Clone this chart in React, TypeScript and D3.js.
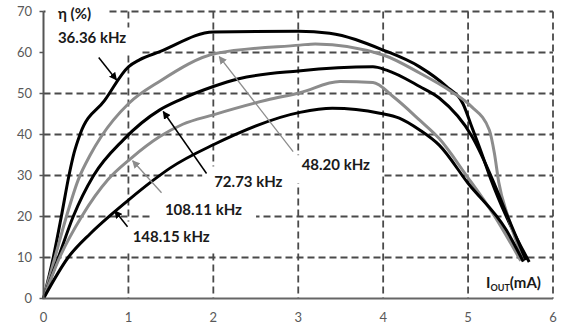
import React, { useEffect, useRef } from 'react'
import * as d3 from 'd3'

// efficiency vs output current, one array per switching frequency
const f3636 = [[0, 0], [0.115, 10], [0.21, 20], [0.3, 30], [0.36, 35.5], [0.43, 40], [0.72, 48.3], [1.0, 56.5], [1.13, 58.2], [1.37, 60.2], [2.0, 65], [3.0, 65.2], [3.37, 64.7], [4.0, 60.6], [4.43, 56.5], [4.74, 51.8], [4.94, 47.5], [5.05, 41.5], [5.15, 36], [5.27, 29], [5.45, 20], [5.72, 8.9]]
const f4820 = [[0, 0], [0.135, 10], [0.27, 20], [0.41, 29], [0.55, 35], [0.68, 39.5], [1.0, 47.5], [1.37, 53], [2.04, 59.8], [3.02, 61.8], [3.2, 62.1], [4.0, 59.4], [4.43, 55], [4.8, 50.5], [5.04, 46.8], [5.25, 41.1], [5.31, 35.4], [5.36, 28.5], [5.47, 20], [5.66, 9.2]]
const f7273 = [[0, 0], [0.175, 10], [0.35, 20], [0.59, 30], [0.94, 38.7], [1.37, 46], [1.6, 48.4], [2.0, 51.7], [2.3, 53.6], [3.0, 55.5], [3.88, 56.5], [4.04, 55.7], [4.43, 51.7], [4.66, 48.9], [5.05, 39.4], [5.29, 28.9], [5.45, 20.8], [5.68, 9.4]]
const f10811 = [[0, 0], [0.19, 10], [0.45, 20], [0.76, 29], [1.02, 34], [1.37, 39.5], [1.64, 42.5], [2.0, 44.8], [2.63, 48.4], [3.02, 50.2], [3.49, 52.9], [3.88, 52.7], [4.12, 49.2], [4.43, 43.5], [4.66, 39], [4.98, 30], [5.29, 20.8], [5.62, 9.2]]
const f14815 = [[0, 0], [0.29, 10], [0.55, 15.8], [0.8, 20.5], [1.0, 24], [1.29, 28.8], [1.49, 31.8], [2.0, 37.5], [3.02, 45.4], [3.4, 46.4], [3.96, 45.2], [4.19, 44], [4.43, 41.1], [4.66, 37.4], [5.0, 28.1], [5.45, 16.7], [5.65, 9]]

const seriesNames = ['36.36 kHz', '48.20 kHz', '72.73 kHz', '108.11 kHz', '148.15 kHz']
const seriesData = [f3636, f4820, f7273, f10811, f14815]
const xTicks = [0, 1, 2, 3, 4, 5, 6]
const yTicks = [0, 10, 20, 30, 40, 50, 60, 70]

const BLACK = '#000'
const GRAY = '#8c8c8c'

const W = 565
const H = 326
const margin = { left: 43.5, right: 12, top: 11.5, bottom: 27.5 }

export default function App() {
  const ref = useRef<SVGSVGElement>(null)

  useEffect(() => {
    const svg = d3.select(ref.current)
    svg.selectAll('*').remove()

    const x = d3.scaleLinear().domain([0, 6]).range([margin.left, W - margin.right])
    const y = d3.scaleLinear().domain([0, 70]).range([H - margin.bottom, margin.top])

    const colors = [BLACK, GRAY, BLACK, GRAY, BLACK]
    const font = 'Lato, "Open Sans", sans-serif'

    // dashed grid
    const grid = svg.append('g').attr('stroke', '#4a4a4a').attr('stroke-width', 1.8).attr('stroke-dasharray', '7,4')
    grid.selectAll('line.h')
      .data(yTicks.slice(1))
      .enter()
      .append('line')
        .attr('x1', x(0)).attr('x2', x(6))
        .attr('y1', d => y(d)).attr('y2', d => y(d))
    grid.selectAll('line.v')
      .data(xTicks.slice(1))
      .enter()
      .append('line')
        .attr('x1', d => x(d)).attr('x2', d => x(d))
        .attr('y1', y(70)).attr('y2', y(0))

    // labels with their arrows (from label to curve)
    const labels = [
      { text: seriesNames[0], lx: 0.17, ly: 62.2, from: [0.65, 58.8], to: [0.86, 53.3], color: BLACK, box: [-14, -16, 14, 11] },
      { text: seriesNames[1], lx: 3.04, ly: 31.3, from: [2.94, 35.8], to: [2.07, 59.0], color: GRAY, box: [-12, -15, 12, 13] },
      { text: seriesNames[2], lx: 2.01, ly: 27.1, from: [1.92, 30.5], to: [1.41, 45.6], color: BLACK, box: [-12, -21, 12, 12] },
      { text: seriesNames[3], lx: 1.43, ly: 20.4, from: [1.39, 25.8], to: [1.05, 33.6], color: GRAY, box: [-13, -16, 14, 10] },
      { text: seriesNames[4], lx: 1.05, ly: 13.9, from: [0.99, 17.5], to: [0.84, 21.4], color: BLACK, box: [-16, -20, 12, 10] }
    ]

    const textG = svg.append('g')
      .attr('font-family', font)
      .attr('font-weight', 700)
      .attr('font-size', 15)
    const texts = textG.selectAll('text')
      .data(labels)
      .enter()
      .append('text')
        .attr('x', d => x(d.lx))
        .attr('y', d => y(d.ly))
        .attr('fill', '#1a1a1a')
        .text(d => d.text)

    // white boxes behind labels, hide the grid like the excel text boxes
    const boxG = svg.insert('g', 'g:last-child')
    texts.each(function (d) {
      const bb = (this as SVGTextElement).getBBox()
      boxG.append('rect')
        .attr('x', bb.x + d.box[0])
        .attr('y', y(d.ly) + d.box[1])
        .attr('width', bb.width - d.box[0] + d.box[2])
        .attr('height', -d.box[1] + d.box[3])
        .attr('fill', '#fff')
    })
    // eta label box
    boxG.append('rect').attr('x', x(0) + 2).attr('y', 2).attr('width', 62).attr('height', 22).attr('fill', '#fff')

    // curves
    const line = d3.line<number[]>()
      .x(d => x(d[0]))
      .y(d => y(d[1]))
      .curve(d3.curveMonotoneX)

    svg.append('g')
      .selectAll('path.curve')
      .data(seriesData)
      .enter()
      .append('path')
        .attr('class', 'curve')
        .attr('d', d => line(d))
        .attr('fill', 'none')
        .attr('stroke', (d, i) => colors[i])
        .attr('stroke-width', 3)
        .attr('stroke-linejoin', 'round')

    // axes
    svg.append('line')
      .attr('x1', x(0)).attr('x2', x(0)).attr('y1', y(70)).attr('y2', y(0))
      .attr('stroke', '#555').attr('stroke-width', 2)
    svg.append('line')
      .attr('x1', x(0) - 1).attr('x2', x(6)).attr('y1', y(0)).attr('y2', y(0))
      .attr('stroke', '#666').attr('stroke-width', 2.2)
    svg.append('g')
      .selectAll('line')
      .data(yTicks)
      .enter()
      .append('line')
        .attr('x1', x(0) - 4).attr('x2', x(0))
        .attr('y1', d => y(d)).attr('y2', d => y(d))
        .attr('stroke', '#555').attr('stroke-width', 1.5)

    const tickG = svg.append('g')
      .attr('font-family', font)
      .attr('font-size', 13)
      .attr('fill', '#595959')
    tickG.selectAll('text.y')
      .data(yTicks)
      .enter()
      .append('text')
        .attr('x', 32)
        .attr('y', d => y(d) + 4.5)
        .attr('text-anchor', 'end')
        .text(d => d)
    tickG.selectAll('text.x')
      .data(xTicks)
      .enter()
      .append('text')
        .attr('x', d => x(d))
        .attr('y', 322)
        .attr('text-anchor', 'middle')
        .text(d => d)

    // arrows
    const defs = svg.append('defs')
    ;[['arrBlack', BLACK], ['arrGray', GRAY]].forEach(([id, c]) => {
      defs.append('marker')
        .attr('id', id)
        .attr('viewBox', '0 0 10 10')
        .attr('refX', 9).attr('refY', 5)
        .attr('markerWidth', 8).attr('markerHeight', 8)
        .attr('markerUnits', 'userSpaceOnUse')
        .attr('orient', 'auto')
        .append('path')
          .attr('d', 'M0,0 L10,5 L0,10 z')
          .attr('fill', c)
    })
    svg.append('g')
      .selectAll('line')
      .data(labels)
      .enter()
      .append('line')
        .attr('x1', d => x(d.from[0])).attr('y1', d => y(d.from[1]))
        .attr('x2', d => x(d.to[0])).attr('y2', d => y(d.to[1]))
        .attr('stroke', d => d.color)
        .attr('stroke-width', d => d.color === GRAY ? 1.3 : 1.5)
        .attr('marker-end', d => d.color === GRAY ? 'url(#arrGray)' : 'url(#arrBlack)')

    // axis titles
    svg.append('text')
      .attr('x', 58).attr('y', 19)
      .attr('font-family', font).attr('font-weight', 700).attr('font-size', 15)
      .attr('fill', '#1a1a1a')
      .text('η (%)')

    const xt = svg.append('text')
      .attr('x', 486).attr('y', 288)
      .attr('font-family', font).attr('font-weight', 700).attr('font-size', 15)
      .attr('fill', '#1a1a1a')
    xt.append('tspan').text('I')
    xt.append('tspan').attr('font-size', 9).attr('dy', 3).text('OUT')
    xt.append('tspan').attr('dy', -3).text('(mA)')
  }, [])

  return (
    <svg ref={ref} width={W} height={H}
      style={{ position: 'absolute', left: 0, top: 0, background: '#fff' }} />
  )
}
